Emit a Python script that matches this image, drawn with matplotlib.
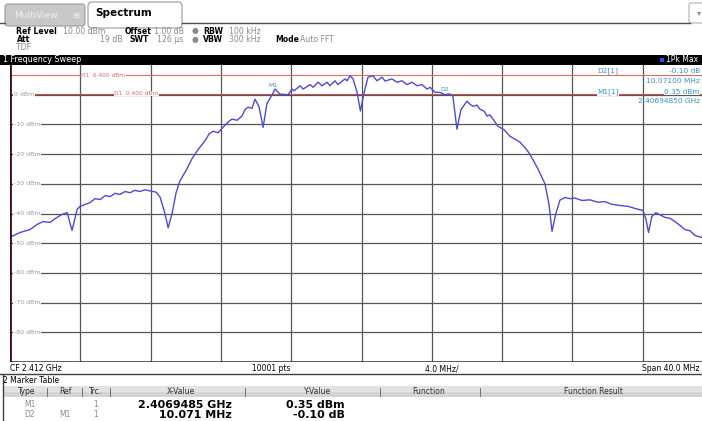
import matplotlib
matplotlib.use('Agg')
import matplotlib.pyplot as plt
from matplotlib.patches import Rectangle, FancyBboxPatch

# ---------------- data ----------------
center_ghz = 2.412
span_mhz = 40.0
ref_level_dbm = 10.0
bottom_level_dbm = -90.0
x_grid_mhz = [-16, -12, -8, -4, 0, 4, 8, 12, 16]
y_grid_dbm = [0, -10, -20, -30, -40, -50, -60, -70, -80]
y_tick_labels = ["0 dBm", "-10 dBm", "-20 dBm", "-30 dBm", "-40 dBm",
                 "-50 dBm", "-60 dBm", "-70 dBm", "-80 dBm"]

trace_freq_mhz = [
    -20.00, -19.43, -18.86, -18.46, -18.12, -17.72, -17.43, -17.04, -16.75, -16.47,
    -16.18, -16.01, -15.44, -15.16, -14.87, -14.59, -14.30, -14.02, -13.74, -13.45,
    -13.17, -12.89, -12.60, -12.32, -12.03, -11.69, -11.46, -11.23, -11.00, -10.78,
    -10.55, -10.33, -9.98, -9.64, -9.30, -8.90, -8.67, -8.45, -8.16, -7.88,
    -7.59, -7.37, -7.08, -6.80, -6.63, -6.46, -6.23, -6.06, -5.83, -5.60,
    -5.38, -5.05, -4.92, -4.64, -4.18, -3.95, -3.84, -3.50, -3.32, -2.93,
    -2.75, -2.47, -2.25, -1.96, -1.79, -1.51, -1.34, -0.94, -0.82, -0.65,
    -0.48, -0.26, -0.06, 0.14, 0.37, 0.65, 0.88, 1.17, 1.34, 1.73,
    2.02, 2.30, 2.59, 2.87, 3.16, 3.44, 3.73, 3.90, 4.18, 4.47,
    4.75, 4.92, 5.02, 5.20, 5.43, 5.66, 6.00, 6.17, 6.34, 6.57,
    6.74, 6.97, 7.14, 7.31, 7.48, 7.76, 8.11, 8.45, 9.02, 9.30,
    9.58, 10.04, 10.44, 10.67, 10.84, 11.06, 11.29, 11.57, 11.86, 12.14,
    12.54, 13.00, 13.45, 13.85, 14.25, 14.72, 15.17, 15.56, 16.02, 16.19,
    16.33, 16.52, 16.75, 17.26, 17.55, 17.83, 18.12, 18.40, 18.69, 18.97,
    19.37, 20.00,
]
trace_level_dbm = [
    -48.0, -46.4, -45.4, -43.7, -42.7, -43.0, -41.7, -40.3, -39.7, -45.7,
    -38.6, -37.6, -36.3, -35.0, -35.3, -34.0, -34.3, -33.2, -33.6, -32.6,
    -33.0, -32.2, -32.6, -32.0, -32.4, -32.8, -34.5, -39.0, -44.8, -40.0,
    -33.0, -29.0, -25.5, -21.5, -18.5, -15.5, -13.2, -12.3, -12.8, -11.0,
    -9.2, -8.2, -8.6, -7.2, -5.0, -4.2, -4.6, -1.5, -4.0, -11.0,
    -3.0, 0.35, 1.9, 0.2, 0.0, 1.9, 1.3, 3.0, 1.9, 3.4,
    2.5, 4.2, 3.0, 4.2, 3.0, 4.7, 3.4, 5.3, 4.7, 6.4,
    5.3, 1.0, -5.5, 0.5, 5.9, 6.4, 4.7, 5.9, 4.6, 5.3,
    4.2, 4.7, 3.4, 4.2, 3.0, 3.4, 1.9, 2.5, 0.8, 0.8,
    0.0, 0.2, 0.25, -0.5, -11.6, -5.0, -2.2, -3.2, -3.9, -3.5,
    -4.9, -5.5, -7.2, -6.8, -8.2, -10.6, -11.8, -14.0, -16.0, -17.8,
    -20.0, -25.0, -30.0, -37.0, -46.0, -40.0, -35.5, -34.6, -35.0, -34.8,
    -35.6, -35.4, -36.2, -36.0, -36.9, -37.3, -37.6, -38.3, -39.0, -42.0,
    -46.4, -41.0, -39.7, -41.3, -41.6, -42.7, -44.0, -45.4, -45.8, -47.4,
    -48.1, -48.8,
]

h1_level_dbm = 6.6
d1_level_dbm = 0.4
m1_freq_ghz = 2.4069485
m1_level_dbm = 0.35
d2_delta_mhz = 10.071
d2_delta_db = -0.10

# ---------------- figure ----------------
W, H = 702, 421
fig = plt.figure(figsize=(W / 100, H / 100), dpi=100)
fig.patch.set_facecolor('white')

bg = fig.add_axes([0, 0, 1, 1], label='bg')
bg.set_xlim(0, W); bg.set_ylim(H, 0); bg.axis('off')

FONT = 'DejaVu Sans'
GRAY = '#8a8a8a'
BLUE_TXT = '#3a8fd6'
RED = '#e06a6a'

# tabs
bg.add_patch(FancyBboxPatch((5, 4), 80, 22, boxstyle='round,pad=0,rounding_size=3',
                            fc='#c8c8c8', ec='#9a9a9a', lw=0.8))
bg.text(14, 15, 'MultiView', fontsize=6.5, color='#f0f0f0', va='center', family=FONT)
bg.text(72, 15, '⊞', fontsize=6, color='#f0f0f0', va='center', family=FONT)
bg.add_patch(FancyBboxPatch((88, 2), 94, 26, boxstyle='round,pad=0,rounding_size=4',
                            fc='white', ec='#9a9a9a', lw=0.8))
bg.plot([182, 690], [23, 23], color='#505050', lw=1.0)
bg.plot([0, 5], [23, 23], color='#505050', lw=1.0)
bg.text(95, 13.5, 'Spectrum', fontsize=7.5, weight='bold', color='black', va='center', family=FONT)
bg.add_patch(FancyBboxPatch((689, 3), 20, 20, boxstyle='round,pad=0,rounding_size=2',
                            fc='white', ec='#b0b0b0', lw=0.8))
bg.text(697, 13, '▾', fontsize=6, color='#909090', va='center', family=FONT)

# header info
hs = 5.6
def hdr(x, y, s, bold=False, color='black', ha='left'):
    bg.text(x, y, s, fontsize=hs, weight='bold' if bold else 'normal', color=color,
            va='center', ha=ha, family=FONT)

hdr(16, 31, 'Ref Level', True)
hdr(63, 31, '10.00 dBm', color=GRAY)
hdr(125, 31, 'Offset', True)
hdr(154, 31, '1.00 dB', color=GRAY)
hdr(192, 31, '●', color=GRAY)
hdr(203, 31, 'RBW', True)
hdr(229, 31, '100 kHz', color=GRAY)
hdr(17, 39.5, 'Att', True)
hdr(123, 39.5, '19 dB', color=GRAY, ha='right')
hdr(130, 39.5, 'SWT', True)
hdr(157, 39.5, '126 µs', color=GRAY)
hdr(192, 39.5, '●', color=GRAY)
hdr(203, 39.5, 'VBW', True)
hdr(229, 39.5, '300 kHz', color=GRAY)
hdr(275, 39.5, 'Mode', True)
hdr(300, 39.5, 'Auto FFT', color=GRAY)
hdr(16, 47.5, 'TDF', color=GRAY)

# black bar
bg.add_patch(Rectangle((0, 55), W, 10, fc='black', ec='none'))
bg.text(3, 60, '1 Frequency Sweep', fontsize=5.8, color='white', va='center', family=FONT)
bg.add_patch(Rectangle((660, 58), 4, 4, fc='#3050ff', ec='none'))
bg.text(666, 60, '1Pk Max', fontsize=5.5, color='white', va='center', family=FONT)

# status row under plot
bg.plot([0, W], [374, 374], color='#404040', lw=1.0)
bg.text(10, 368.5, 'CF 2.412 GHz', fontsize=5.5, color='black', va='center', family=FONT)
bg.text(252, 368.5, '10001 pts', fontsize=5.5, color='black', va='center', family=FONT)
bg.text(425, 368.5, '4.0 MHz/', fontsize=5.5, color='black', va='center', family=FONT)
bg.text(700, 368.5, 'Span 40.0 MHz', fontsize=5.5, color='black', va='center', ha='right',
        family=FONT)

# marker table
bg.text(3, 380.5, '2 Marker Table', fontsize=5.5, color='black', va='center', family=FONT)
bg.add_patch(Rectangle((3, 386), W, 11, fc='#e2e2e2', ec='none'))
bg.add_patch(Rectangle((3, 391.5), W, 5.5, fc='#d4d4d4', ec='none'))
bg.plot([3, 3], [375, H], color='#404040', lw=1.0)
th = [(27, 'Type'), (65, 'Ref'), (96, 'Trc.'), (181, 'X-Value'), (318, 'Y-Value'),
      (429, 'Function'), (594, 'Function Result')]
for x, s in th:
    bg.text(x, 392, s, fontsize=5.5, color='#303030', va='center', ha='center', family=FONT)
for x in [47, 82, 110, 245, 380, 480]:
    bg.plot([x, x], [388, 396], color='#707070', lw=0.7)

m1_label = f"{m1_freq_ghz:.7f} GHz"
m1_val = f"{m1_level_dbm:.2f} dBm"
d2_label = f"{d2_delta_mhz:.3f} MHz"
d2_val = f"{d2_delta_db:.2f} dB"
bs = 7.9
bg.text(30, 404.5, 'M1', fontsize=5.5, color=GRAY, va='center', ha='center', family=FONT)
bg.text(96, 404.5, '1', fontsize=5.5, color=GRAY, va='center', ha='center', family=FONT)
bg.text(232, 404.5, m1_label, fontsize=bs, weight='bold', va='center', ha='right', family=FONT)
bg.text(345, 404.5, m1_val, fontsize=bs, weight='bold', va='center', ha='right', family=FONT)
bg.text(30, 414.5, 'D2', fontsize=5.5, color=GRAY, va='center', ha='center', family=FONT)
bg.text(65, 414.5, 'M1', fontsize=5.5, color=GRAY, va='center', ha='center', family=FONT)
bg.text(96, 414.5, '1', fontsize=5.5, color=GRAY, va='center', ha='center', family=FONT)
bg.text(232, 414.5, d2_label, fontsize=bs, weight='bold', va='center', ha='right', family=FONT)
bg.text(345, 414.5, d2_val, fontsize=bs, weight='bold', va='center', ha='right', family=FONT)

# ---------------- plot axes ----------------
x0, x1, y0, y1 = 10, 713, 65, 362
ax = fig.add_axes([x0 / W, 1 - y1 / H, (x1 - x0) / W, (y1 - y0) / H], label='plot')
ax.set_xlim(-span_mhz / 2, span_mhz / 2)
ax.set_ylim(bottom_level_dbm, ref_level_dbm)
ax.set_facecolor('white')
for s in ax.spines.values():
    s.set_visible(False)
ax.set_xticks(x_grid_mhz)
ax.set_yticks(y_grid_dbm)
ax.tick_params(length=0, labelleft=False, labelbottom=False)
ax.grid(True, color='#555555', lw=0.9, zorder=0)
ax.set_axisbelow(True)
ax.axhline(bottom_level_dbm, color='#404040', lw=1.2)

# white box behind marker info (covers grid)
ax.add_patch(Rectangle((0.814, 0.86), 0.2, 0.14, transform=ax.transAxes,
                       fc='white', ec='none', zorder=0.5))

for lvl, lab in zip(y_grid_dbm, y_tick_labels):
    ax.text(-19.8, lvl, lab, fontsize=4.5, color='#9a9a9a', va='center', ha='left',
            family=FONT, zorder=2,
            bbox=dict(fc='white', ec='none', pad=0.6))

ax.axhline(h1_level_dbm, color=RED, lw=0.8, zorder=1.5)
ax.axhline(d1_level_dbm, color='#cc5050', lw=0.8, zorder=1.5)
ax.text(-14.7, h1_level_dbm, 'H1  6.400 dBm', fontsize=4.2, color=RED, va='center',
        ha='center', family=FONT, zorder=2, bbox=dict(fc='white', ec='none', pad=0.3))
ax.text(-12.8, d1_level_dbm, 'D1  0.400 dBm', fontsize=4.2, color=RED, va='center',
        ha='center', family=FONT, zorder=2, bbox=dict(fc='white', ec='none', pad=0.3))

ax.plot(trace_freq_mhz, trace_level_dbm, color='#4b4bd8', lw=1.0, zorder=3)

m1_off = (m1_freq_ghz - center_ghz) * 1000
d2_off = m1_off + d2_delta_mhz
ax.text(m1_off, 3.0, 'M1', fontsize=4.3, color=BLUE_TXT, ha='center', va='center',
        family=FONT, zorder=4)
ax.text(d2_off - 0.3, 1.7, 'D2', fontsize=4.3, color=BLUE_TXT, ha='center', va='center',
        family=FONT, zorder=4)

# left border
ax.axvline(-span_mhz / 2, color='#3a1010', lw=2.0, zorder=4)

# ---------------- overlay (marker info) ----------------
ov = fig.add_axes([0, 0, 1, 1], label='overlay', facecolor='none')
ov.set_xlim(0, W); ov.set_ylim(H, 0); ov.axis('off')
ms = 5.3
xr = 700
ov.text(597, 71, 'D2[1]', fontsize=ms, color=BLUE_TXT, va='center', family=FONT,
        bbox=dict(fc='white', ec='none', pad=0.3))
ov.text(xr, 71, f"{d2_delta_db:.2f} dB", fontsize=ms, color=BLUE_TXT, va='center',
        ha='right', family=FONT, bbox=dict(fc='white', ec='none', pad=0.3))
ov.text(xr, 81, f"{d2_delta_mhz:.5f} MHz", fontsize=ms, color=BLUE_TXT, va='center',
        ha='right', family=FONT)
ov.text(597, 92, 'M1[1]', fontsize=ms, color=BLUE_TXT, va='center', family=FONT,
        bbox=dict(fc='white', ec='none', pad=0.3))
ov.text(xr, 92, f"{m1_level_dbm:.2f} dBm", fontsize=ms, color=BLUE_TXT, va='center',
        ha='right', family=FONT, bbox=dict(fc='white', ec='none', pad=0.3))
ov.text(xr, 101, f"{m1_freq_ghz:.8f} GHz", fontsize=ms, color=BLUE_TXT, va='center',
        ha='right', family=FONT)

fig.savefig('out.png', dpi=100)
